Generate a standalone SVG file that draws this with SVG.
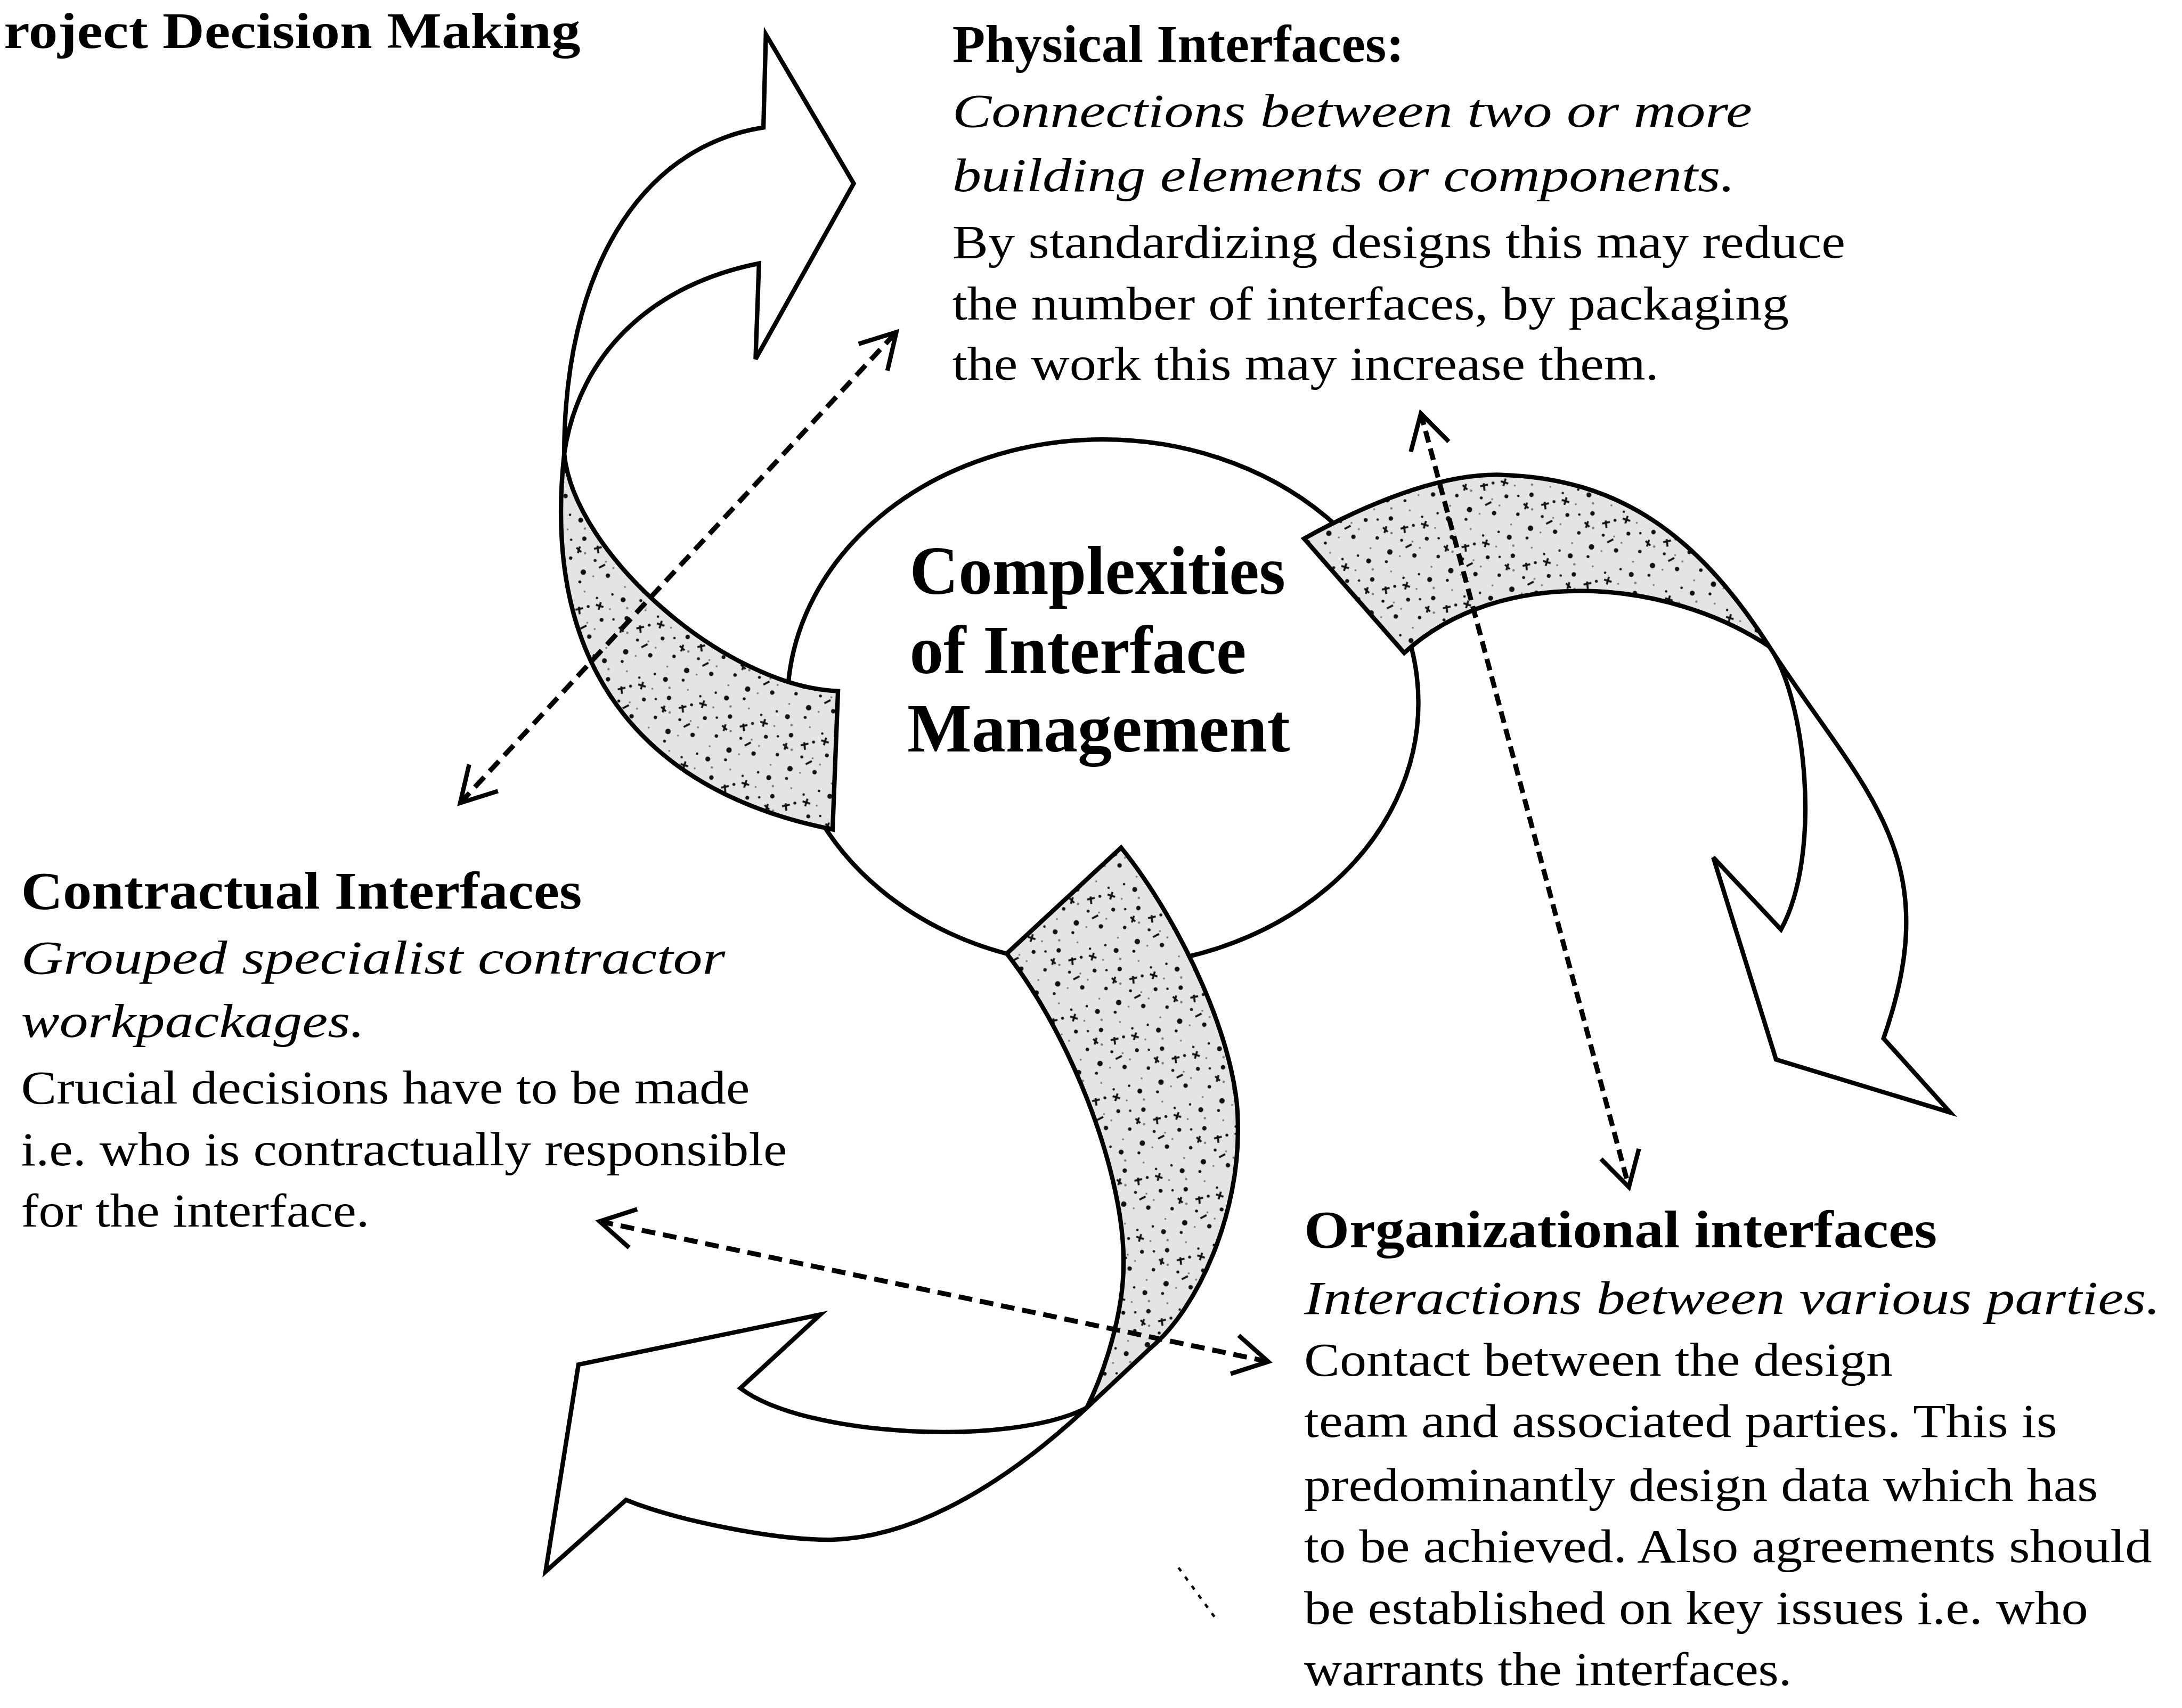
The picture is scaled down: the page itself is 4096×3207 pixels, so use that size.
<svg xmlns="http://www.w3.org/2000/svg" width="4096" height="3207" viewBox="0 0 4096 3207">
  <defs>
    <style>
      .body{fill:#fff;stroke:#000;stroke-width:9;stroke-linejoin:miter}
      .band{fill:url(#stipple);stroke:#000;stroke-width:9;stroke-linejoin:miter}
      .dash{fill:none;stroke:#000;stroke-width:10;stroke-dasharray:28 16}
      .dash2{fill:none;stroke:#000;stroke-width:10;stroke-dasharray:24 13}
      text{font-family:"Liberation Serif","Times New Roman",serif;fill:#000}
      .h{font-weight:bold;font-size:108px}
      .t{font-weight:bold;font-size:104px}
      .b{font-size:97px}
      .i{font-size:97px;font-style:italic}
      .c{font-weight:bold;font-size:140px}
    </style>
    <!-- speckled fill for the twisted ribbon parts of the arrows -->
    <pattern id="stipple" patternUnits="userSpaceOnUse" width="130" height="130" patternTransform="rotate(17)">
      <rect width="130" height="130" fill="#e4e4e4"/>
      <g fill="#111">
        <circle cx="12" cy="18" r="5"/>
        <circle cx="47" cy="9" r="3"/>
        <circle cx="30" cy="52" r="4.5"/>
        <circle cx="112" cy="70" r="4"/>
        <circle cx="15" cy="98" r="3.5"/>
        <circle cx="48" cy="118" r="5.5"/>
        <circle cx="98" cy="110" r="4.5"/>
        <circle cx="78" cy="52" r="3"/>
        <circle cx="118" cy="14" r="2.5"/>
        <circle cx="5" cy="62" r="2.5"/>
        <circle cx="64" cy="88" r="3"/>
        <circle cx="90" cy="30" r="2.5"/>
      </g>
      <g fill="#7a7a7a">
        <circle cx="25" cy="32" r="2.5"/>
        <circle cx="62" cy="25" r="2"/>
        <circle cx="40" cy="80" r="2.5"/>
        <circle cx="86" cy="84" r="2"/>
        <circle cx="122" cy="44" r="2"/>
        <circle cx="8" cy="122" r="2"/>
        <circle cx="104" cy="92" r="2"/>
        <circle cx="70" cy="120" r="2"/>
      </g>
      <g stroke="#111" stroke-width="4" fill="none">
        <path d="M92,44 L108,44 M100,36 L100,52"/>
        <path d="M55,66 l14,-8 M60,58 l6,14"/>
        <path d="M20,74 l12,6 M26,70 l0,14"/>
        <path d="M76,100 l10,-10"/>
      </g>
    </pattern>
    <marker id="vee" viewBox="-100 -60 120 120" markerWidth="120" markerHeight="120" refX="0" refY="0" orient="auto-start-reverse" markerUnits="userSpaceOnUse">
      <path d="M-70,-40 L0,0 L-70,40" fill="none" stroke="#000" stroke-width="9" stroke-dasharray="none" stroke-linejoin="miter"/>
    </marker>
  </defs>

  <rect width="4096" height="3207" fill="#fff"/>

  <g transform="scale(0.921)">
    <!-- central node -->
    <g id="core">
      <ellipse cx="2248" cy="1433" rx="643" ry="537" fill="#fff" stroke="#000" stroke-width="9"/>
      <text class="c" x="1854" y="1211" textLength="766" lengthAdjust="spacingAndGlyphs">Complexities</text>
      <text class="c" x="1854" y="1372" textLength="686" lengthAdjust="spacingAndGlyphs">of Interface</text>
      <text class="c" x="1849" y="1532" textLength="780" lengthAdjust="spacingAndGlyphs">Management</text>
    </g>

    <!-- upper-left curved arrow, pointing towards the physical interfaces -->
    <g id="arrow-physical">
      <path class="body" d="M1150,925 C1150,560 1300,300 1556,260 L1561,70 L1740,374 L1540,732 L1547,537 C1330,580 1180,720 1150,925 Z"/>
      <path class="band" d="M1708,1409 C1480,1400 1170,1130 1150,925 C1100,1390 1340,1620 1697,1691 Z"/>
    </g>

    <!-- right curved arrow, pointing down towards the organizational interfaces -->
    <g id="arrow-organizational">
      <path class="body" d="M3606,1318 C3795,1612 3972,1738 3839,2117 L3975,2268 L3620,2160 L3492,1748 L3630,1895 C3715,1740 3680,1420 3606,1318 Z"/>
      <path class="band" d="M2658,1098 C2775,1033 2930,965 3059,968 C3300,975 3460,1090 3606,1318 C3400,1180 3060,1150 2862,1331 Z"/>
    </g>

    <!-- bottom curved arrow, pointing left towards the contractual interfaces -->
    <g id="arrow-contractual">
      <path class="body" d="M2215,2870 C2069,3006 1880,3135 1694,3139 C1580,3140 1380,3100 1276,3058 L1112,3204 L1179,2782 L1672,2680 L1509,2830 C1640,2930 2060,2950 2215,2870 Z"/>
      <path class="band" d="M2052,1944 L2285,1728 C2405,1876 2525,2130 2523,2294 C2527,2470 2445,2665 2344,2749 L2215,2870 C2250,2800 2290,2680 2290,2576 C2292,2400 2190,2122 2052,1944 Z"/>
    </g>

    <!-- dashed two-way links between the interface types -->
    <g id="connectors">
      <path class="dash" d="M938,1637 L1827,677" marker-start="url(#vee)" marker-end="url(#vee)"/>
      <path class="dash2" d="M2896,843 L3320,2420" marker-start="url(#vee)" marker-end="url(#vee)"/>
      <path class="dash" d="M1222,2490 L2585,2776" marker-start="url(#vee)" marker-end="url(#vee)"/>
      <path d="M2402,3196 L2478,3300" fill="none" stroke="#000" stroke-width="5" stroke-dasharray="9 14"/>
    </g>

    <g id="title">
      <text class="t" x="8" y="98" textLength="1175" lengthAdjust="spacingAndGlyphs">roject Decision Making</text>
    </g>

    <g id="label-physical">
      <text class="h" x="1941" y="126" textLength="921" lengthAdjust="spacingAndGlyphs">Physical Interfaces:</text>
      <text class="i" x="1941" y="258" textLength="1630" lengthAdjust="spacingAndGlyphs">Connections between two or more</text>
      <text class="i" x="1941" y="390" textLength="1595" lengthAdjust="spacingAndGlyphs">building elements or components.</text>
      <text class="b" x="1941" y="526" textLength="1820" lengthAdjust="spacingAndGlyphs">By standardizing designs this may reduce</text>
      <text class="b" x="1941" y="651" textLength="1705" lengthAdjust="spacingAndGlyphs">the number of interfaces, by packaging</text>
      <text class="b" x="1941" y="774" textLength="1440" lengthAdjust="spacingAndGlyphs">the work this may increase them.</text>
    </g>

    <g id="label-contractual">
      <text class="h" x="43" y="1852" textLength="1143" lengthAdjust="spacingAndGlyphs">Contractual Interfaces</text>
      <text class="i" x="43" y="1985" textLength="1435" lengthAdjust="spacingAndGlyphs">Grouped specialist contractor</text>
      <text class="i" x="43" y="2114" textLength="700" lengthAdjust="spacingAndGlyphs">workpackages.</text>
      <text class="b" x="43" y="2250" textLength="1485" lengthAdjust="spacingAndGlyphs">Crucial decisions have to be made</text>
      <text class="b" x="43" y="2376" textLength="1561" lengthAdjust="spacingAndGlyphs">i.e. who is contractually responsible</text>
      <text class="b" x="43" y="2501" textLength="710" lengthAdjust="spacingAndGlyphs">for the interface.</text>
    </g>

    <g id="label-organizational">
      <text class="h" x="2658" y="2543" textLength="1290" lengthAdjust="spacingAndGlyphs">Organizational interfaces</text>
      <text class="i" x="2658" y="2679" textLength="1745" lengthAdjust="spacingAndGlyphs">Interactions between various parties.</text>
      <text class="b" x="2658" y="2805" textLength="1200" lengthAdjust="spacingAndGlyphs">Contact between the design</text>
      <text class="b" x="2658" y="2929" textLength="1535" lengthAdjust="spacingAndGlyphs">team and associated parties. This is</text>
      <text class="b" x="2658" y="3060" textLength="1618" lengthAdjust="spacingAndGlyphs">predominantly design data which has</text>
      <text class="b" x="2658" y="3185" textLength="1728" lengthAdjust="spacingAndGlyphs">to be achieved. Also agreements should</text>
      <text class="b" x="2658" y="3311" textLength="1598" lengthAdjust="spacingAndGlyphs">be established on key issues i.e. who</text>
      <text class="b" x="2658" y="3435" textLength="994" lengthAdjust="spacingAndGlyphs">warrants the interfaces.</text>
    </g>
  </g>
</svg>
